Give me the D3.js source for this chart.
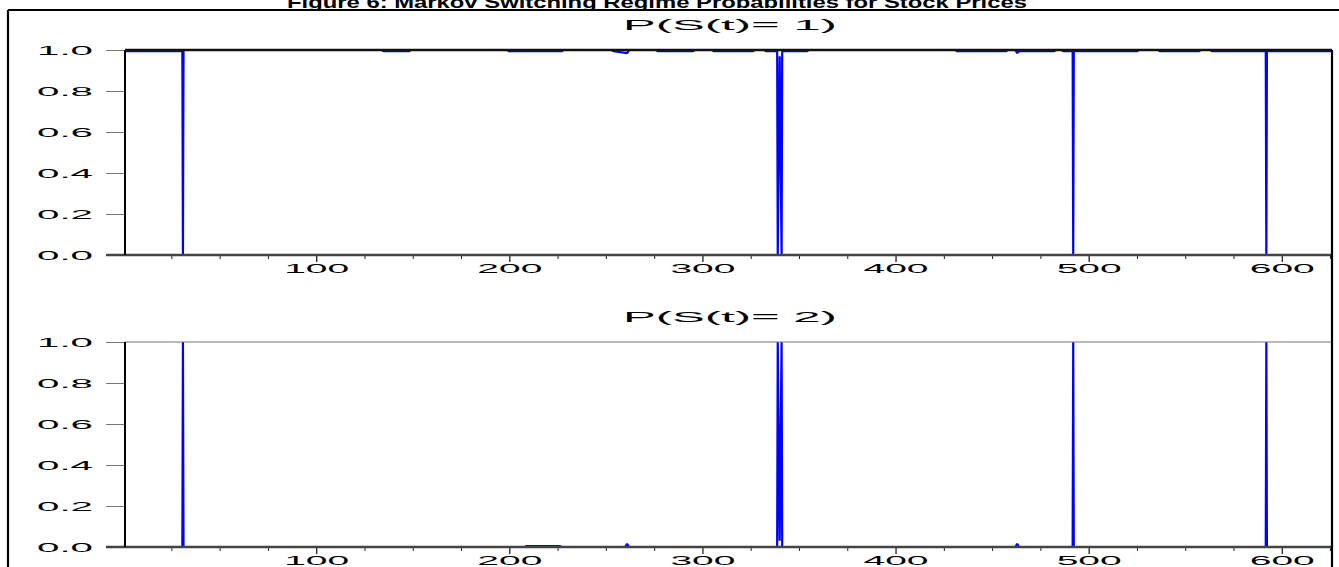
<!DOCTYPE html>
<html>
<head>
<meta charset="utf-8">
<script src="https://cdn.jsdelivr.net/npm/d3@7"></script>
<style>
  html, body { margin: 0; padding: 0; background: #fff; }
  svg { display: block; }
  text { font-family: "Liberation Sans", Arial, sans-serif; fill: #000; }
</style>
</head>
<body>
<svg id="chart" width="1339" height="567"></svg>
<script>
// ---- data ----
const titleText = "Figure 6: Markov Switching Regime Probabilities for Stock Prices";
const panelTitles = ["P(S(t)= 1)", "P(S(t)= 2)"];
const yTickValues = [0.0, 0.2, 0.4, 0.6, 0.8, 1.0];
const yTickLabels = ["0.0", "0.2", "0.4", "0.6", "0.8", "1.0"];
const xMajorTicks = [100, 200, 300, 400, 500, 600];
const xMinorTicks = [25, 50, 75, 125, 150, 175, 225, 250, 275, 325, 350, 375, 425, 450, 475, 525, 550, 575, 625];
const xDomain = [1, 626];

// P(S(t)=1): break points of the smoothed probability (time, value)
const timeS1 = [1, 30.7, 31, 31.3, 134, 135, 148, 149, 199, 200, 227, 228, 253, 254, 261, 262,
  276, 277, 295, 296, 305, 306, 326, 327, 332, 333, 338.7, 339, 340, 341, 341.3, 354, 355,
  431, 432, 457, 458, 462, 463, 464, 482, 483, 486, 487, 491.7, 492, 492.3, 525, 526,
  536, 537, 557, 558, 563, 564, 591.7, 592, 592.3, 626];
const probS1 = [0.994, 0.994, 0, 1, 1, 0.994, 0.994, 1, 1, 0.994, 0.994, 1, 1, 0.994, 0.985, 1,
  1, 0.994, 0.994, 1, 1, 0.994, 0.994, 1, 1, 0.994, 0.994, 0, 0.97, 0, 0.994, 0.994, 1,
  1, 0.994, 0.994, 1, 1, 0.985, 0.994, 0.994, 1, 1, 0.994, 0.994, 0, 0.994, 0.994, 1,
  1, 0.994, 0.994, 1, 1, 0.994, 0.994, 0, 0.994, 0.994];

// P(S(t)=2)
const timeS2 = [1, 30.7, 31, 31.3, 208, 209, 226, 227, 260, 261, 262, 338.7, 339, 340, 341, 341.3,
  462, 463, 464, 491.7, 492, 492.3, 591.7, 592, 592.3, 626];
const probS2 = [0, 0, 1, 0, 0, 0.005, 0.005, 0, 0, 0.015, 0, 0, 1, 0.03, 1, 0,
  0, 0.015, 0, 0, 1, 0, 0, 1, 0, 0];

// ---- layout ----
const svg = d3.select("#chart");
const left = 125, right = 1332;
const panels = [
  { top: 50, bottom: 255, t: timeS1, v: probS1, title: panelTitles[0], topColor: "#111", topW: 2.4 },
  { top: 342, bottom: 547, t: timeS2, v: probS2, title: panelTitles[1], topColor: "#777", topW: 1.2 }
];

const x = d3.scaleLinear().domain(xDomain).range([left, right]);

// outer frame
svg.append("line").attr("x1", 8).attr("x2", 1339).attr("y1", 10).attr("y2", 10)
  .attr("stroke", "#000").attr("stroke-width", 2);
svg.append("line").attr("x1", 8).attr("x2", 8).attr("y1", 10).attr("y2", 567)
  .attr("stroke", "#000").attr("stroke-width", 2.2);

// main title
svg.append("text")
  .attr("x", 287).attr("y", 8)
  .attr("font-size", 17).attr("font-weight", "bold")
  .attr("textLength", 740).attr("lengthAdjust", "spacingAndGlyphs")
  .text(titleText);

panels.forEach((p, i) => {
  const y = d3.scaleLinear().domain([0, 1]).range([p.bottom, p.top]);
  const g = svg.append("g");

  const cid = "clip" + i;
  svg.append("clipPath").attr("id", cid).append("rect")
    .attr("x", left).attr("y", p.top - 2).attr("width", right - left).attr("height", p.bottom - p.top + 4);

  // panel title
  g.append("text")
    .attr("x", 623).attr("y", p.top - 20)
    .attr("font-size", 14)
    .attr("textLength", 214).attr("lengthAdjust", "spacingAndGlyphs")
    .text(p.title);

  // series line
  const pts = p.t.map((tt, k) => [tt, p.v[k]]);
  const line = d3.line().x(d => x(d[0])).y(d => y(d[1]));
  g.append("path")
    .datum(pts)
    .attr("clip-path", `url(#${cid})`)
    .attr("d", line)
    .attr("fill", "none")
    .attr("stroke", "#0000ff")
    .attr("stroke-width", 2.2)
    .attr("stroke-linejoin", "bevel");

  // y axis ticks + labels
  const yAxis = d3.axisLeft(y).tickValues(yTickValues).tickSize(19).tickFormat((d, k) => yTickLabels[k]);
  const ya = g.append("g").attr("transform", `translate(${left},0)`).call(yAxis);
  ya.select(".domain").remove();
  ya.selectAll(".tick line").attr("stroke", "#777").attr("stroke-width", 1);
  ya.selectAll(".tick text")
    .attr("x", -32).attr("dy", "0.36em")
    .attr("font-size", 12.5)
    .attr("font-family", "Liberation Sans, Arial, sans-serif")
    .attr("textLength", 56).attr("lengthAdjust", "spacingAndGlyphs")
    .attr("fill", "#000");

  // x axis minor ticks
  const xMinor = d3.axisBottom(x).tickValues(xMinorTicks).tickSize(4).tickFormat("");
  const xm = g.append("g").attr("transform", `translate(0,${p.bottom})`).call(xMinor);
  xm.select(".domain").remove();
  xm.selectAll(".tick line").attr("stroke", "#222");

  // x axis major ticks + labels
  const xAxis = d3.axisBottom(x).tickValues(xMajorTicks).tickSize(7).tickFormat(d3.format("d"));
  const xa = g.append("g").attr("transform", `translate(0,${p.bottom})`).call(xAxis);
  xa.select(".domain").remove();
  xa.selectAll(".tick line").attr("stroke", "#222").attr("stroke-width", 1.3);
  xa.selectAll(".tick text")
    .attr("y", 9).attr("dy", "0.71em")
    .attr("font-size", 12.5)
    .attr("font-family", "Liberation Sans, Arial, sans-serif")
    .attr("textLength", 65).attr("lengthAdjust", "spacingAndGlyphs")
    .attr("fill", "#000");

  // frame lines (drawn over series)
  g.append("line").attr("x1", left).attr("x2", right).attr("y1", y(1)).attr("y2", y(1))
    .attr("stroke", p.topColor).attr("stroke-width", p.topW);
  g.append("line").attr("x1", left - 19).attr("x2", right).attr("y1", y(0)).attr("y2", y(0))
    .attr("stroke", "#444").attr("stroke-width", 2.4);
  g.append("line").attr("x1", left).attr("x2", left).attr("y1", y(1)).attr("y2", y(0))
    .attr("stroke", "#000").attr("stroke-width", 2);
});

// right border
svg.append("line").attr("x1", right).attr("x2", right).attr("y1", 50).attr("y2", 567)
  .attr("stroke", "#000").attr("stroke-width", 2.2);
</script>
</body>
</html>
